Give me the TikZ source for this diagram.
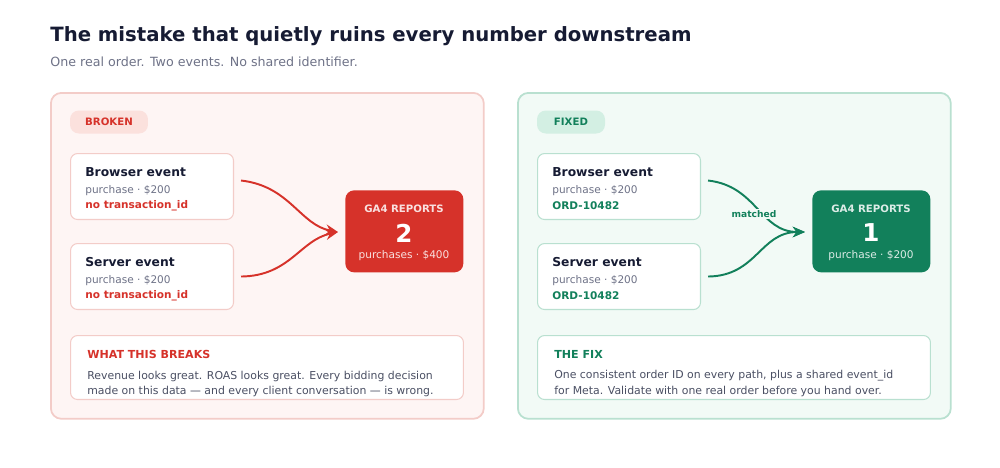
\documentclass[tikz,border=0pt]{standalone}
\usepackage{fontspec}
\setmainfont{DejaVu Sans}
\usetikzlibrary{positioning,calc,arrows.meta}
\definecolor{ink}{HTML}{161B33}
\definecolor{muted}{HTML}{6E7287}
\definecolor{bodytxt}{HTML}{4A4F63}
\definecolor{bad}{HTML}{D6322A}
\definecolor{badbg}{HTML}{FEF5F4}
\definecolor{badline}{HTML}{F3CCC8}
\definecolor{badpill}{HTML}{FBE1DD}
\definecolor{good}{HTML}{12805B}
\definecolor{goodbg}{HTML}{F2FAF6}
\definecolor{goodline}{HTML}{B9E0D0}
\definecolor{goodpill}{HTML}{D3EFE3}
\begin{document}
\begin{tikzpicture}[x=0.02cm, y=-0.02cm,
    panel/.style={draw, line width=1pt, rounded corners=6pt, anchor=north west, inner sep=0pt},
    pill/.style={rounded corners=5pt, minimum width=78\pgflinewidth, anchor=center, font=\fontsize{5.8}{7}\selectfont\bfseries, inner sep=0pt, minimum width=1.56cm, minimum height=0.46cm},
    event/.style={draw, fill=white, line width=0.6pt, rounded corners=4pt, anchor=north west, minimum width=3.26cm, minimum height=1.32cm, inner sep=0pt},
    report/.style={rounded corners=5pt, anchor=north west, minimum width=2.36cm, minimum height=1.64cm, inner sep=0pt},
    head/.style={anchor=west, inner sep=0pt, font=\fontsize{7}{8}\selectfont\bfseries, text=ink},
    meta/.style={anchor=west, inner sep=0pt, font=\fontsize{6}{7}\selectfont, text=muted},
    tag/.style={anchor=west, inner sep=0pt, font=\fontsize{6}{7}\selectfont\bfseries},
    para/.style={anchor=west, inner sep=0pt, font=\fontsize{6.2}{7}\selectfont, text=bodytxt},
    flow/.style={line width=1.1pt, -{Stealth[length=7pt, width=6pt]}}
]
    \useasboundingbox (0,0) rectangle (1000,467);
    % Title
    \node[anchor=west, inner sep=0pt, font=\fontsize{11.2}{13}\selectfont\bfseries, text=ink] (title) at (50,36) {The mistake that quietly ruins every number downstream};
    \node[anchor=west, inner sep=0pt, font=\fontsize{7.2}{9}\selectfont, text=muted] (subtitle) at (50,62) {One real order. Two events. No shared identifier.};

    % Broken panel
    \node[panel, draw=badline, fill=badbg, minimum width=8.66cm, minimum height=6.52cm] (brokenpanel) at (50,92) {};
    \node[pill, fill=badpill, text=bad] (brokenpill) at (109,122) {BROKEN};
    \node[event, draw=badline] (bbrowser) at (70,153) {};
    \node[head] (bbrowserh) at (85,172) {Browser event};
    \node[meta] at (85,191) {purchase · \$200};
    \node[tag, text=bad] at (85,206) {no transaction\_id};
    \node[event, draw=badline] (bserver) at (70,243) {};
    \node[head] (bserverh) at (85,262) {Server event};
    \node[meta] at (85,281) {purchase · \$200};
    \node[tag, text=bad] at (85,296) {no transaction\_id};
    \node[report, fill=bad] (breport) at (345,190) {};
    \node[font=\fontsize{5.8}{7}\selectfont\bfseries, text=white!85!bad, inner sep=0pt] at (404,209) {GA4 REPORTS};
    \node[font=\fontsize{14}{16}\selectfont\bfseries, text=white, inner sep=0pt] at (404,233) {2};
    \node[font=\fontsize{6}{7}\selectfont, text=white!85!bad, inner sep=0pt] at (404,256) {purchases · \$400};
    \coordinate (bin) at (338,232);
    \draw[flow, bad] ($(bbrowser.east)+(7,-6)$) .. controls (290,186) and (300,225) .. (bin);
    \draw[flow, bad] ($(bserver.east)+(7,0)$) .. controls (290,276) and (300,240) .. (bin);
    \node[event, draw=badline, minimum width=7.86cm, minimum height=1.28cm] (bbreaks) at (70,335) {};
    \node[tag, text=bad, font=\fontsize{6.3}{7}\selectfont\bfseries] at (87,354) {WHAT THIS BREAKS};
    \node[para] at (87,376) {Revenue looks great. ROAS looks great. Every bidding decision};
    \node[para] at (87,391) {made on this data — and every client conversation — is wrong.};

    % Fixed panel
    \node[panel, draw=goodline, fill=goodbg, minimum width=8.66cm, minimum height=6.52cm] (fixedpanel) at (517,92) {};
    \node[pill, fill=goodpill, text=good, minimum width=1.36cm] (fixedpill) at (571,122) {FIXED};
    \node[event, draw=goodline] (gbrowser) at (537,153) {};
    \node[head] (gbrowserh) at (552,172) {Browser event};
    \node[meta] at (552,191) {purchase · \$200};
    \node[tag, text=good] at (552,206) {ORD-10482};
    \node[event, draw=goodline] (gserver) at (537,243) {};
    \node[head] (gserverh) at (552,262) {Server event};
    \node[meta] at (552,281) {purchase · \$200};
    \node[tag, text=good] at (552,296) {ORD-10482};
    \node[report, fill=good] (greport) at (812,190) {};
    \node[font=\fontsize{5.8}{7}\selectfont\bfseries, text=white!85!good, inner sep=0pt] at (871,209) {GA4 REPORTS};
    \node[font=\fontsize{14}{16}\selectfont\bfseries, text=white, inner sep=0pt] at (871,233) {1};
    \node[font=\fontsize{6}{7}\selectfont, text=white!85!good, inner sep=0pt] at (871,256) {purchase · \$200};
    \coordinate (gin) at (805,232);
    \draw[flow, good] ($(gbrowser.east)+(7,-6)$) .. controls (757,186) and (760,232) .. (gin);
    \draw[flow, good] ($(gserver.east)+(7,0)$) .. controls (757,276) and (760,232) .. (gin);
    \node[font=\fontsize{5.2}{6}\selectfont\bfseries, text=good, inner sep=1pt, fill=goodbg] (matched) at (754,214) {matched};
    \node[event, draw=goodline, minimum width=7.86cm, minimum height=1.28cm] (gfix) at (537,335) {};
    \node[tag, text=good, font=\fontsize{6.3}{7}\selectfont\bfseries] at (554,354) {THE FIX};
    \node[para] at (554,376) {One consistent order ID on every path, plus a shared event\_id};
    \node[para] at (554,391) {for Meta. Validate with one real order before you hand over.};
\end{tikzpicture}
\end{document}
